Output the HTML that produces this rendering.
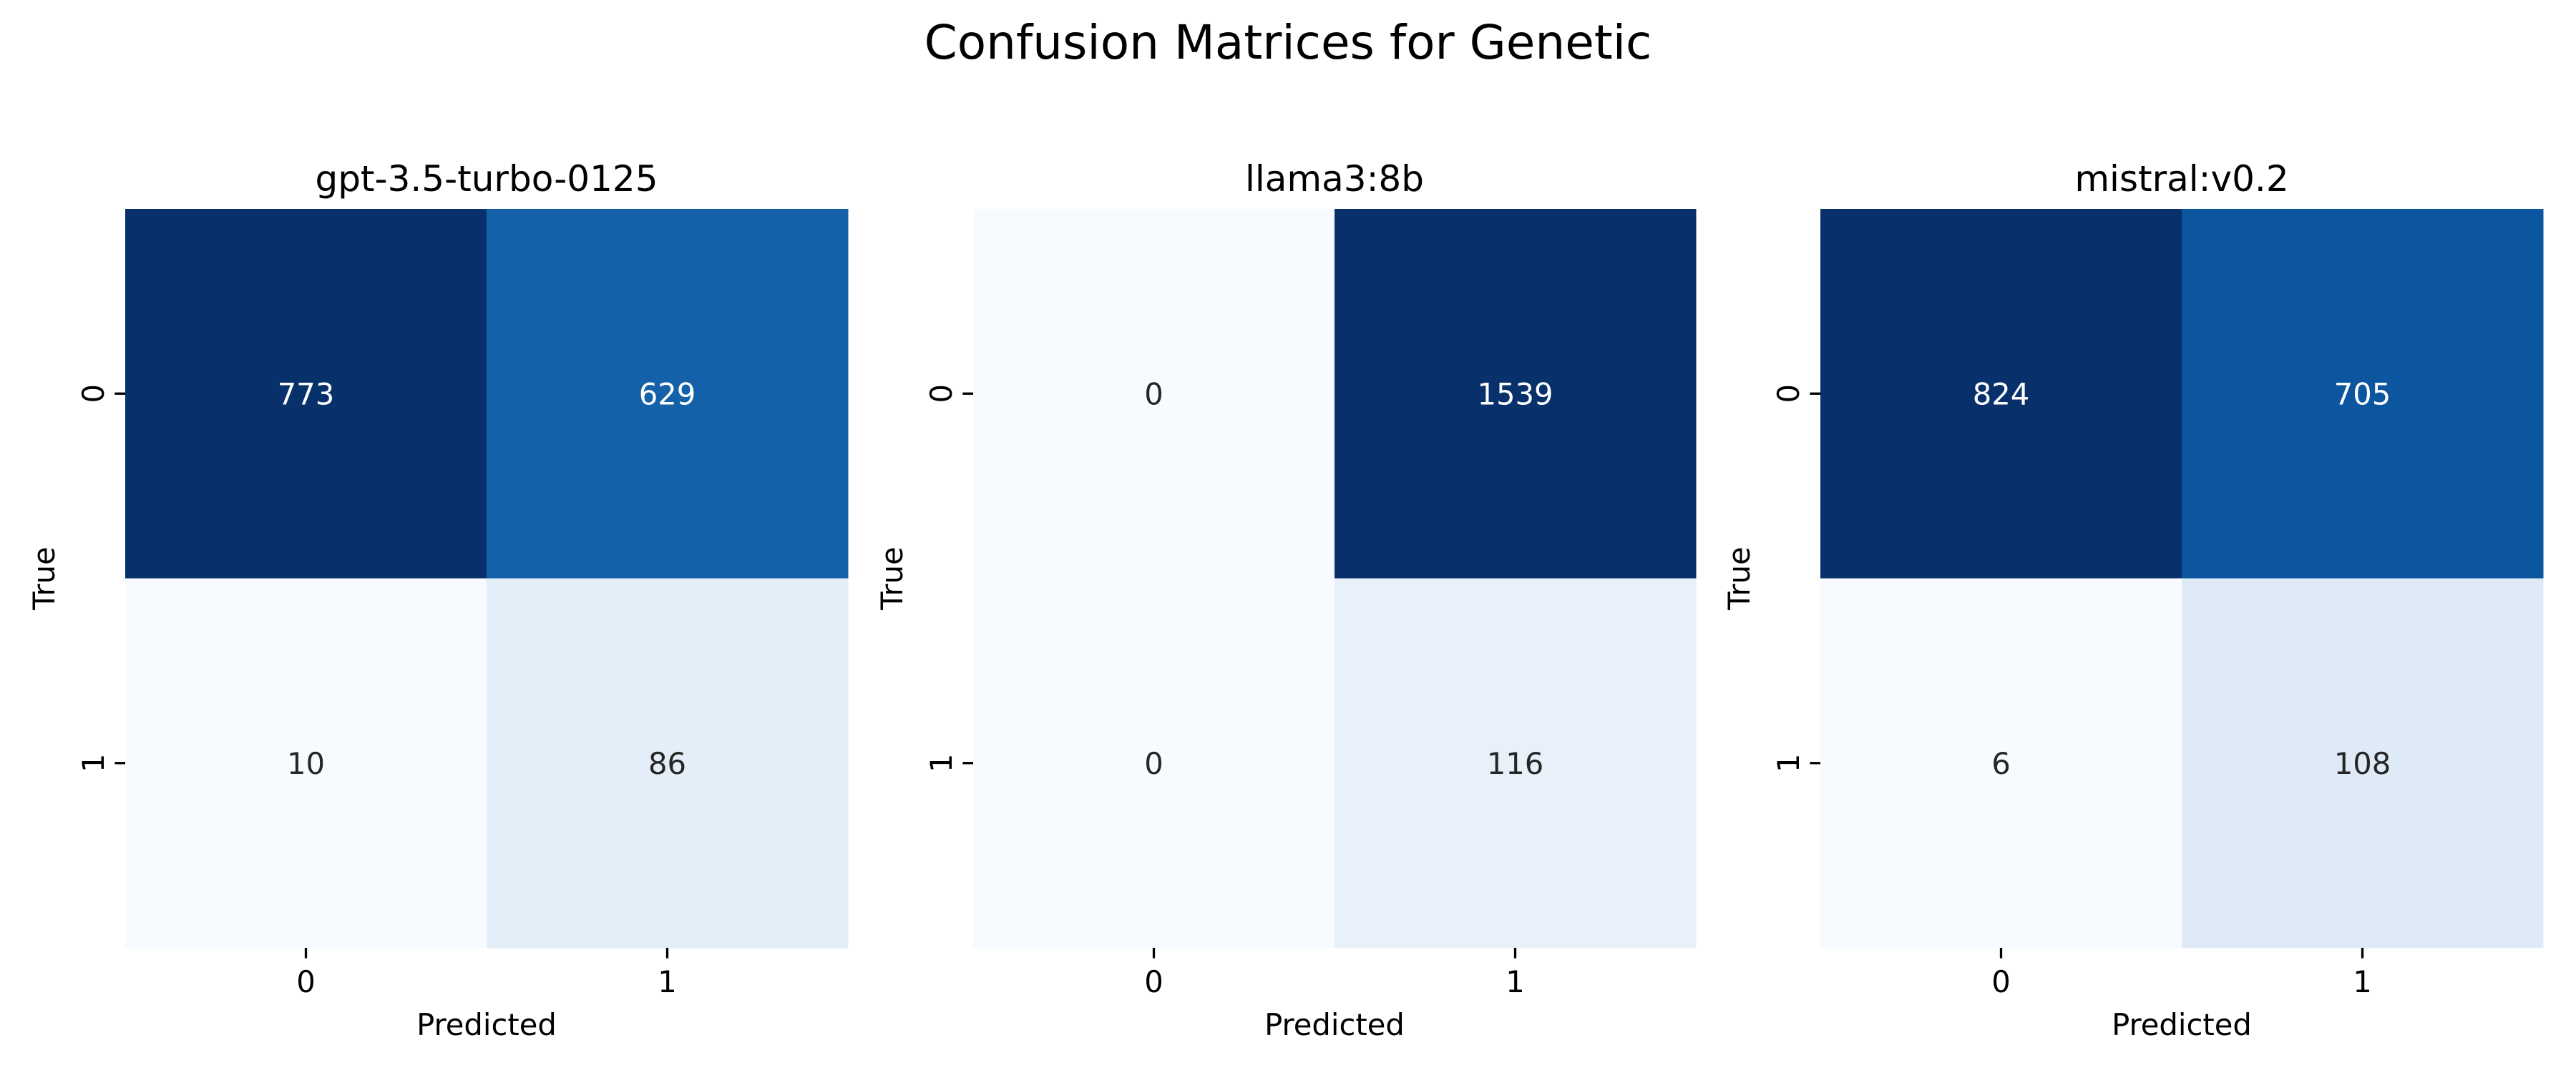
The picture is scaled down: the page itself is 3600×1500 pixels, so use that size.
<!DOCTYPE html>
<html><head><meta charset="utf-8">
<style>
html,body{margin:0;padding:0;background:#fff;}
svg{display:block;font-family:"DejaVu Sans","Liberation Sans",sans-serif;}
</style></head>
<body>
<svg id="fig" width="3600" height="1500" viewBox="0 0 3600 1500" xmlns="http://www.w3.org/2000/svg">
<rect width="3600" height="1500" fill="#fff"/>
<text x="1800" y="82" font-size="66" text-anchor="middle" fill="#000">Confusion Matrices for Genetic</text>
</svg>
<script>
const modelNames = ["gpt-3.5-turbo-0125", "llama3:8b", "mistral:v0.2"];
const matrixGpt = [[773, 629], [10, 86]];
const matrixLlama = [[0, 1539], [0, 116]];
const matrixMistral = [[824, 705], [6, 108]];
const classLabels = ["0", "1"];

const matrices = [matrixGpt, matrixLlama, matrixMistral];
const svgEl = document.getElementById('fig');
const NS = 'http://www.w3.org/2000/svg';
const blueStops = ["#f7fbff","#deebf7","#c6dbef","#9ecae1","#6baed6","#4292c6","#2171b5","#08519c","#08306b"];
function hex(h){return [1,3,5].map(i=>parseInt(h.substr(i,2),16));}
function blues(t){
  t=Math.max(0,Math.min(1,t));
  const p=t*(blueStops.length-1), i=Math.min(Math.floor(p),blueStops.length-2), f=p-i;
  const a=hex(blueStops[i]), b=hex(blueStops[i+1]);
  return 'rgb('+a.map((v,k)=>Math.round(v+(b[k]-v)*f)).join(',')+')';
}
function mk(tag, attrs){const e=document.createElementNS(NS,tag);for(const k in attrs)e.setAttribute(k,attrs[k]);svgEl.appendChild(e);return e;}
const panelX=[175,1360,2544], topY=292, W=1010, H=1033;

matrices.forEach((m,p)=>{
  const x0=panelX[p], n=classLabels.length, cw=W/n, ch=H/n;
  const xs=c=>x0+c*cw, ys=r=>topY+r*ch;
  const flat=m.flat(), mn=Math.min(...flat), mx=Math.max(...flat);
  const t=mk('text',{x:x0+W/2,y:267,'font-size':50,'text-anchor':'middle',fill:'#000'});
  
  
  t.textContent=modelNames[p];
  m.forEach((row,r)=>row.forEach((v,c)=>{
    const norm=mx>mn?(v-mn)/(mx-mn):0;
    const rc=mk('rect',{x:xs(c),y:ys(r),width:cw+0.5,height:ch+0.5,fill:blues(norm)});
    
    
    const tx=mk('text',{x:xs(c)+cw/2,y:ys(r)+ch/2+15,'font-size':41.7,'text-anchor':'middle',fill:norm>0.5?'#fff':'#262626'});
    
    
    tx.textContent=v;
  }));
  classLabels.forEach((lab,i)=>{
    const cx=xs(i)+cw/2;
    mk('line',{x1:cx,y1:topY+H,x2:cx,y2:topY+H+14.6,stroke:'#000','stroke-width':3.3});
    const xt=mk('text',{x:cx,y:1387,'font-size':41.7,'text-anchor':'middle',fill:'#000'});
    
    
    xt.textContent=lab;
    const cy=ys(i)+ch/2;
    mk('line',{x1:x0-14.6,y1:cy,x2:x0,y2:cy,stroke:'#000','stroke-width':3.3});
    const yt=mk('text',{x:0,y:0,'font-size':41.7,'text-anchor':'middle',fill:'#000',transform:`translate(${x0-30},${cy}) rotate(-90)`});
    
    
    yt.textContent=lab;
  });
  const xl=mk('text',{x:x0+W/2,y:1447,'font-size':41.7,'text-anchor':'middle',fill:'#000'});
  
  
  xl.textContent='Predicted';
  const yl=mk('text',{x:0,y:0,'font-size':41.7,'text-anchor':'middle',fill:'#000',transform:`translate(${x0-99},${topY+H/2}) rotate(-90)`});
  
  
  yl.textContent='True';
});
</script>
</body></html>
